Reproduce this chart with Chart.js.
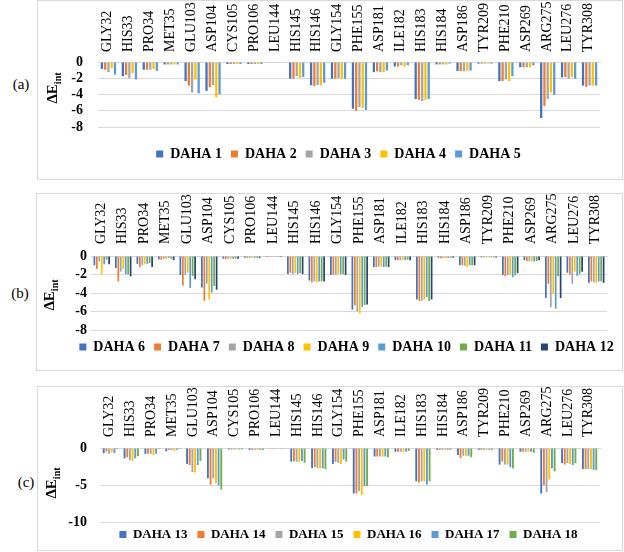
<!DOCTYPE html>
<html>
<head>
<meta charset="utf-8">
<script src="https://cdn.jsdelivr.net/npm/chart.js@4.4.0/dist/chart.umd.min.js"></script>
<style>
  body { margin: 0; background: #fff; width: 624px; height: 552px; position: relative; overflow: hidden;
         font-family: "Liberation Serif", "DejaVu Serif", serif; }
  .box { position: absolute; border: 1px solid #d9d9d9; box-sizing: border-box; }
  canvas { position: absolute; }
  .tag { position: absolute; font-size: 15px; transform: translate(-50%, -50%); }
  .ytitle { position: absolute; font-size: 15px; font-weight: bold; white-space: nowrap;
            transform: translate(-50%, -50%) rotate(-90deg); }
  .ytitle sub { font-size: 10px; }
</style>
</head>
<body>

<div class="box" style="left:37px;top:0px;width:586px;height:180px"></div>
<div class="box" style="left:36px;top:193px;width:587px;height:178px"></div>
<div class="box" style="left:37px;top:386px;width:586px;height:165px"></div>

<canvas id="chartA" style="left:37px;top:0px"></canvas>
<canvas id="chartB" style="left:36px;top:193px"></canvas>
<canvas id="chartC" style="left:37px;top:386px"></canvas>

<div class="tag" style="left:21px;top:84px">(a)</div>
<div class="tag" style="left:20px;top:293px">(b)</div>
<div class="tag" style="left:26px;top:482px">(c)</div>

<div class="ytitle" style="left:53px;top:88px">ΔE<sub>int</sub></div>
<div class="ytitle" style="left:50px;top:295px">ΔE<sub>int</sub></div>
<div class="ytitle" style="left:52px;top:483px">ΔE<sub>int</sub></div>

<script>
// residues along the x axis
const residues = ['GLY32', 'HIS33', 'PRO34', 'MET35', 'GLU103', 'ASP104', 'CYS105', 'PRO106', 'LEU144',
  'HIS145', 'HIS146', 'GLY154', 'PHE155', 'ASP181', 'ILE182', 'HIS183', 'HIS184', 'ASP186',
  'TYR209', 'PHE210', 'ASP269', 'ARG275', 'LEU276', 'TYR308'];

// y tick values
const ticksAB = [0, -2, -4, -6, -8];
const ticksC = [0, -5, -10];

// panel (a)
const daha1 = [-0.85, -1.75, -0.95, -0.3, -2.35, -3.55, -0.25, -0.25, -0.05, -2.05, -2.85, -2.05, -5.75, -1.25, -0.55, -4.55, -0.3, -1.1, -0.2, -2.35, -0.65, -6.9, -1.9, -2.9];
const daha2 = [-0.95, -1.6, -0.95, -0.3, -2.9, -3.1, -0.25, -0.25, -0.05, -2.05, -2.95, -2.05, -6.0, -1.15, -0.55, -4.65, -0.3, -1.1, -0.2, -2.35, -0.65, -5.4, -1.85, -3.05];
const daha3 = [-1.25, -2.0, -0.95, -0.3, -3.75, -2.85, -0.25, -0.25, -0.05, -1.75, -2.85, -2.0, -5.55, -1.25, -0.4, -4.8, -0.3, -1.15, -0.2, -2.15, -0.65, -4.55, -2.1, -2.9];
const daha4 = [-0.75, -1.35, -0.85, -0.3, -2.15, -4.35, -0.25, -0.25, -0.05, -1.95, -2.85, -2.05, -5.65, -1.25, -0.55, -4.65, -0.3, -1.05, -0.2, -2.35, -0.65, -3.75, -1.85, -2.9];
const daha5 = [-1.55, -2.15, -1.1, -0.3, -3.85, -4.0, -0.25, -0.25, -0.05, -1.85, -2.55, -2.05, -5.9, -1.05, -0.4, -4.55, -0.2, -1.05, -0.2, -1.75, -0.4, -4.05, -2.05, -2.9];

// panel (b)
const daha6 = [-1.0, -1.3, -0.85, -0.35, -2.05, -3.4, -0.3, -0.2, -0.1, -1.95, -2.65, -2.05, -5.8, -1.2, -0.45, -4.7, -0.2, -1.0, -0.15, -2.05, -0.45, -4.55, -1.8, -2.9];
const daha7 = [-1.4, -2.75, -1.2, -0.4, -3.2, -4.85, -0.35, -0.2, -0.1, -1.8, -2.85, -2.0, -5.35, -1.2, -0.45, -4.85, -0.25, -1.0, -0.15, -2.2, -0.55, -3.0, -2.0, -2.75];
const daha8 = [-0.6, -1.7, -1.0, -0.3, -2.05, -3.0, -0.3, -0.2, -0.1, -1.95, -2.75, -2.05, -6.0, -1.15, -0.45, -4.85, -0.2, -1.05, -0.15, -2.05, -0.55, -5.55, -3.0, -2.85];
const daha9 = [-1.95, -1.4, -0.85, -0.35, -1.8, -4.7, -0.3, -0.2, -0.1, -1.85, -2.85, -1.95, -6.2, -1.15, -0.45, -4.7, -0.25, -1.2, -0.15, -1.95, -0.6, -4.1, -1.7, -2.9];
const daha10 = [-0.9, -1.95, -0.85, -0.2, -3.45, -3.95, -0.3, -0.2, -0.1, -1.95, -2.75, -1.95, -5.5, -1.2, -0.45, -4.45, -0.2, -1.0, -0.15, -2.3, -0.6, -5.7, -2.15, -2.75];
const daha11 = [-0.4, -2.0, -0.75, -0.3, -2.15, -3.25, -0.3, -0.2, -0.1, -1.85, -2.75, -1.95, -5.3, -1.15, -0.4, -4.85, -0.2, -1.0, -0.15, -2.1, -0.55, -2.2, -1.95, -2.75];
const daha12 = [-0.9, -2.2, -1.2, -0.45, -2.5, -3.65, -0.3, -0.2, -0.1, -1.95, -2.75, -2.05, -5.25, -1.2, -0.45, -4.7, -0.2, -1.0, -0.15, -1.85, -0.45, -4.55, -1.7, -2.9];

// panel (c)
const daha13 = [-0.7, -1.4, -0.8, -0.45, -2.15, -4.1, -0.2, -0.25, -0.1, -1.85, -2.7, -2.15, -6.15, -1.15, -0.5, -4.5, -0.25, -0.95, -0.25, -2.25, -0.5, -6.15, -2.05, -2.85];
const daha14 = [-0.5, -1.25, -0.75, -0.25, -2.3, -4.95, -0.2, -0.25, -0.1, -1.8, -2.6, -1.85, -6.15, -1.15, -0.5, -4.65, -0.25, -1.35, -0.25, -1.85, -0.5, -5.05, -2.25, -2.85];
const daha15 = [-0.8, -1.65, -0.8, -0.3, -3.25, -4.1, -0.2, -0.25, -0.1, -1.85, -2.7, -2.0, -5.85, -1.15, -0.5, -4.5, -0.25, -1.05, -0.25, -2.25, -0.5, -5.95, -2.05, -2.85];
const daha16 = [-0.6, -1.75, -0.95, -0.4, -3.3, -4.75, -0.2, -0.25, -0.1, -1.85, -2.75, -2.15, -6.35, -1.15, -0.5, -4.5, -0.25, -1.05, -0.25, -2.25, -0.5, -4.25, -2.15, -2.85];
const daha17 = [-0.7, -1.4, -0.8, -0.25, -2.3, -5.05, -0.2, -0.25, -0.1, -1.75, -2.75, -1.55, -5.15, -1.15, -0.5, -4.95, -0.25, -1.05, -0.25, -2.6, -0.5, -2.75, -2.3, -2.95];
const daha18 = [-0.15, -1.1, -0.15, -0.15, -1.75, -5.6, -0.2, -0.25, -0.1, -2.0, -2.85, -1.85, -5.15, -1.25, -0.4, -4.5, -0.25, -1.25, -0.25, -2.75, -0.65, -3.15, -2.05, -3.0];

const colors = ['#4472c4', '#ed7d31', '#a5a5a5', '#ffc000', '#5b9bd5', '#70ad47', '#264478'];
const serif = '"Liberation Serif", "DejaVu Serif", serif';

// fixes legend height and nudges it to where the original sits
function legendTweak(legH, dx, dy) {
  return {
    id: 'legendTweak',
    afterInit(chart) {
      const lg = chart.legend;
      const fit = lg.fit;
      lg.fit = function () { fit.call(this); this.height = legH; };
    },
    afterLayout(chart) {
      const lg = chart.legend;
      lg.left += dx; lg.right += dx;
      lg.top += dy; lg.bottom += dy;
    }
  };
}

function makeChart(id, w, h, names, series, yTicks, opt) {
  const cv = document.getElementById(id);
  cv.width = w; cv.height = h;
  cv.style.width = w + 'px'; cv.style.height = h + 'px';

  const datasets = series.map((d, i) => ({
    label: names[i],
    data: d,
    backgroundColor: colors[i],
    borderWidth: 0,
    barPercentage: opt.barPct,
    categoryPercentage: opt.catPct
  }));

  new Chart(cv, {
    type: 'bar',
    data: { labels: residues, datasets: datasets },
    options: {
      responsive: false,
      animation: false,
      devicePixelRatio: 1,
      layout: { padding: { left: 0, right: opt.padR, top: 0, bottom: 0 } },
      plugins: {
        tooltip: { enabled: false },
        legend: {
          position: 'bottom',
          labels: {
            boxWidth: 7, boxHeight: 7, padding: opt.legPad, color: '#000',
            font: { family: serif, size: opt.legFont, weight: 'bold' }
          }
        }
      },
      scales: {
        x: {
          position: 'top',
          grid: { display: false, drawTicks: false },
          border: { display: true, color: '#d9d9d9' },
          ticks: {
            minRotation: 90, maxRotation: 90, autoSkip: false, padding: opt.xPad,
            labelOffset: 16, color: '#000', font: { family: serif, size: 14 }
          },
          afterFit(s) { s.height = opt.top; }
        },
        y: {
          min: yTicks[yTicks.length - 1], max: yTicks[0],
          grid: { color: '#d9d9d9', drawTicks: false },
          border: { display: false },
          ticks: {
            autoSkip: false, padding: opt.yPad, color: '#000',
            font: { family: serif, size: 14, weight: 'bold' }
          },
          afterBuildTicks(s) { s.ticks = yTicks.map(v => ({ value: v })); },
          afterFit(s) { s.width = opt.left; }
        }
      }
    },
    plugins: [legendTweak(opt.legH, opt.dx, opt.dy)]
  });
}

makeChart('chartA', 586, 180,
  ['DAHA 1', 'DAHA 2', 'DAHA 3', 'DAHA 4', 'DAHA 5'],
  [daha1, daha2, daha3, daha4, daha5], ticksAB,
  { padR: 23, top: 62, left: 61, xPad: 10, yPad: 15,
    legH: 53, legPad: 9, legFont: 14, dx: 20, dy: 11, barPct: 0.7, catPct: 0.78 });

makeChart('chartB', 587, 178,
  ['DAHA 6', 'DAHA 7', 'DAHA 8', 'DAHA 9', 'DAHA 10', 'DAHA 11', 'DAHA 12'],
  [daha6, daha7, daha8, daha9, daha10, daha11, daha12], ticksAB,
  { padR: 16, top: 63, left: 55, xPad: 12, yPad: 4,
    legH: 41, legPad: 9, legFont: 14, dx: 25, dy: 1, barPct: 0.7, catPct: 0.8 });

makeChart('chartC', 586, 165,
  ['DAHA 13', 'DAHA 14', 'DAHA 15', 'DAHA 16', 'DAHA 17', 'DAHA 18'],
  [daha13, daha14, daha15, daha16, daha17, daha18], ticksC,
  { padR: 23, top: 62, left: 63, xPad: 11, yPad: 13,
    legH: 29, legPad: 10, legFont: 13, dx: 30, dy: -4, barPct: 0.7, catPct: 0.77 });
</script>
</body>
</html>
